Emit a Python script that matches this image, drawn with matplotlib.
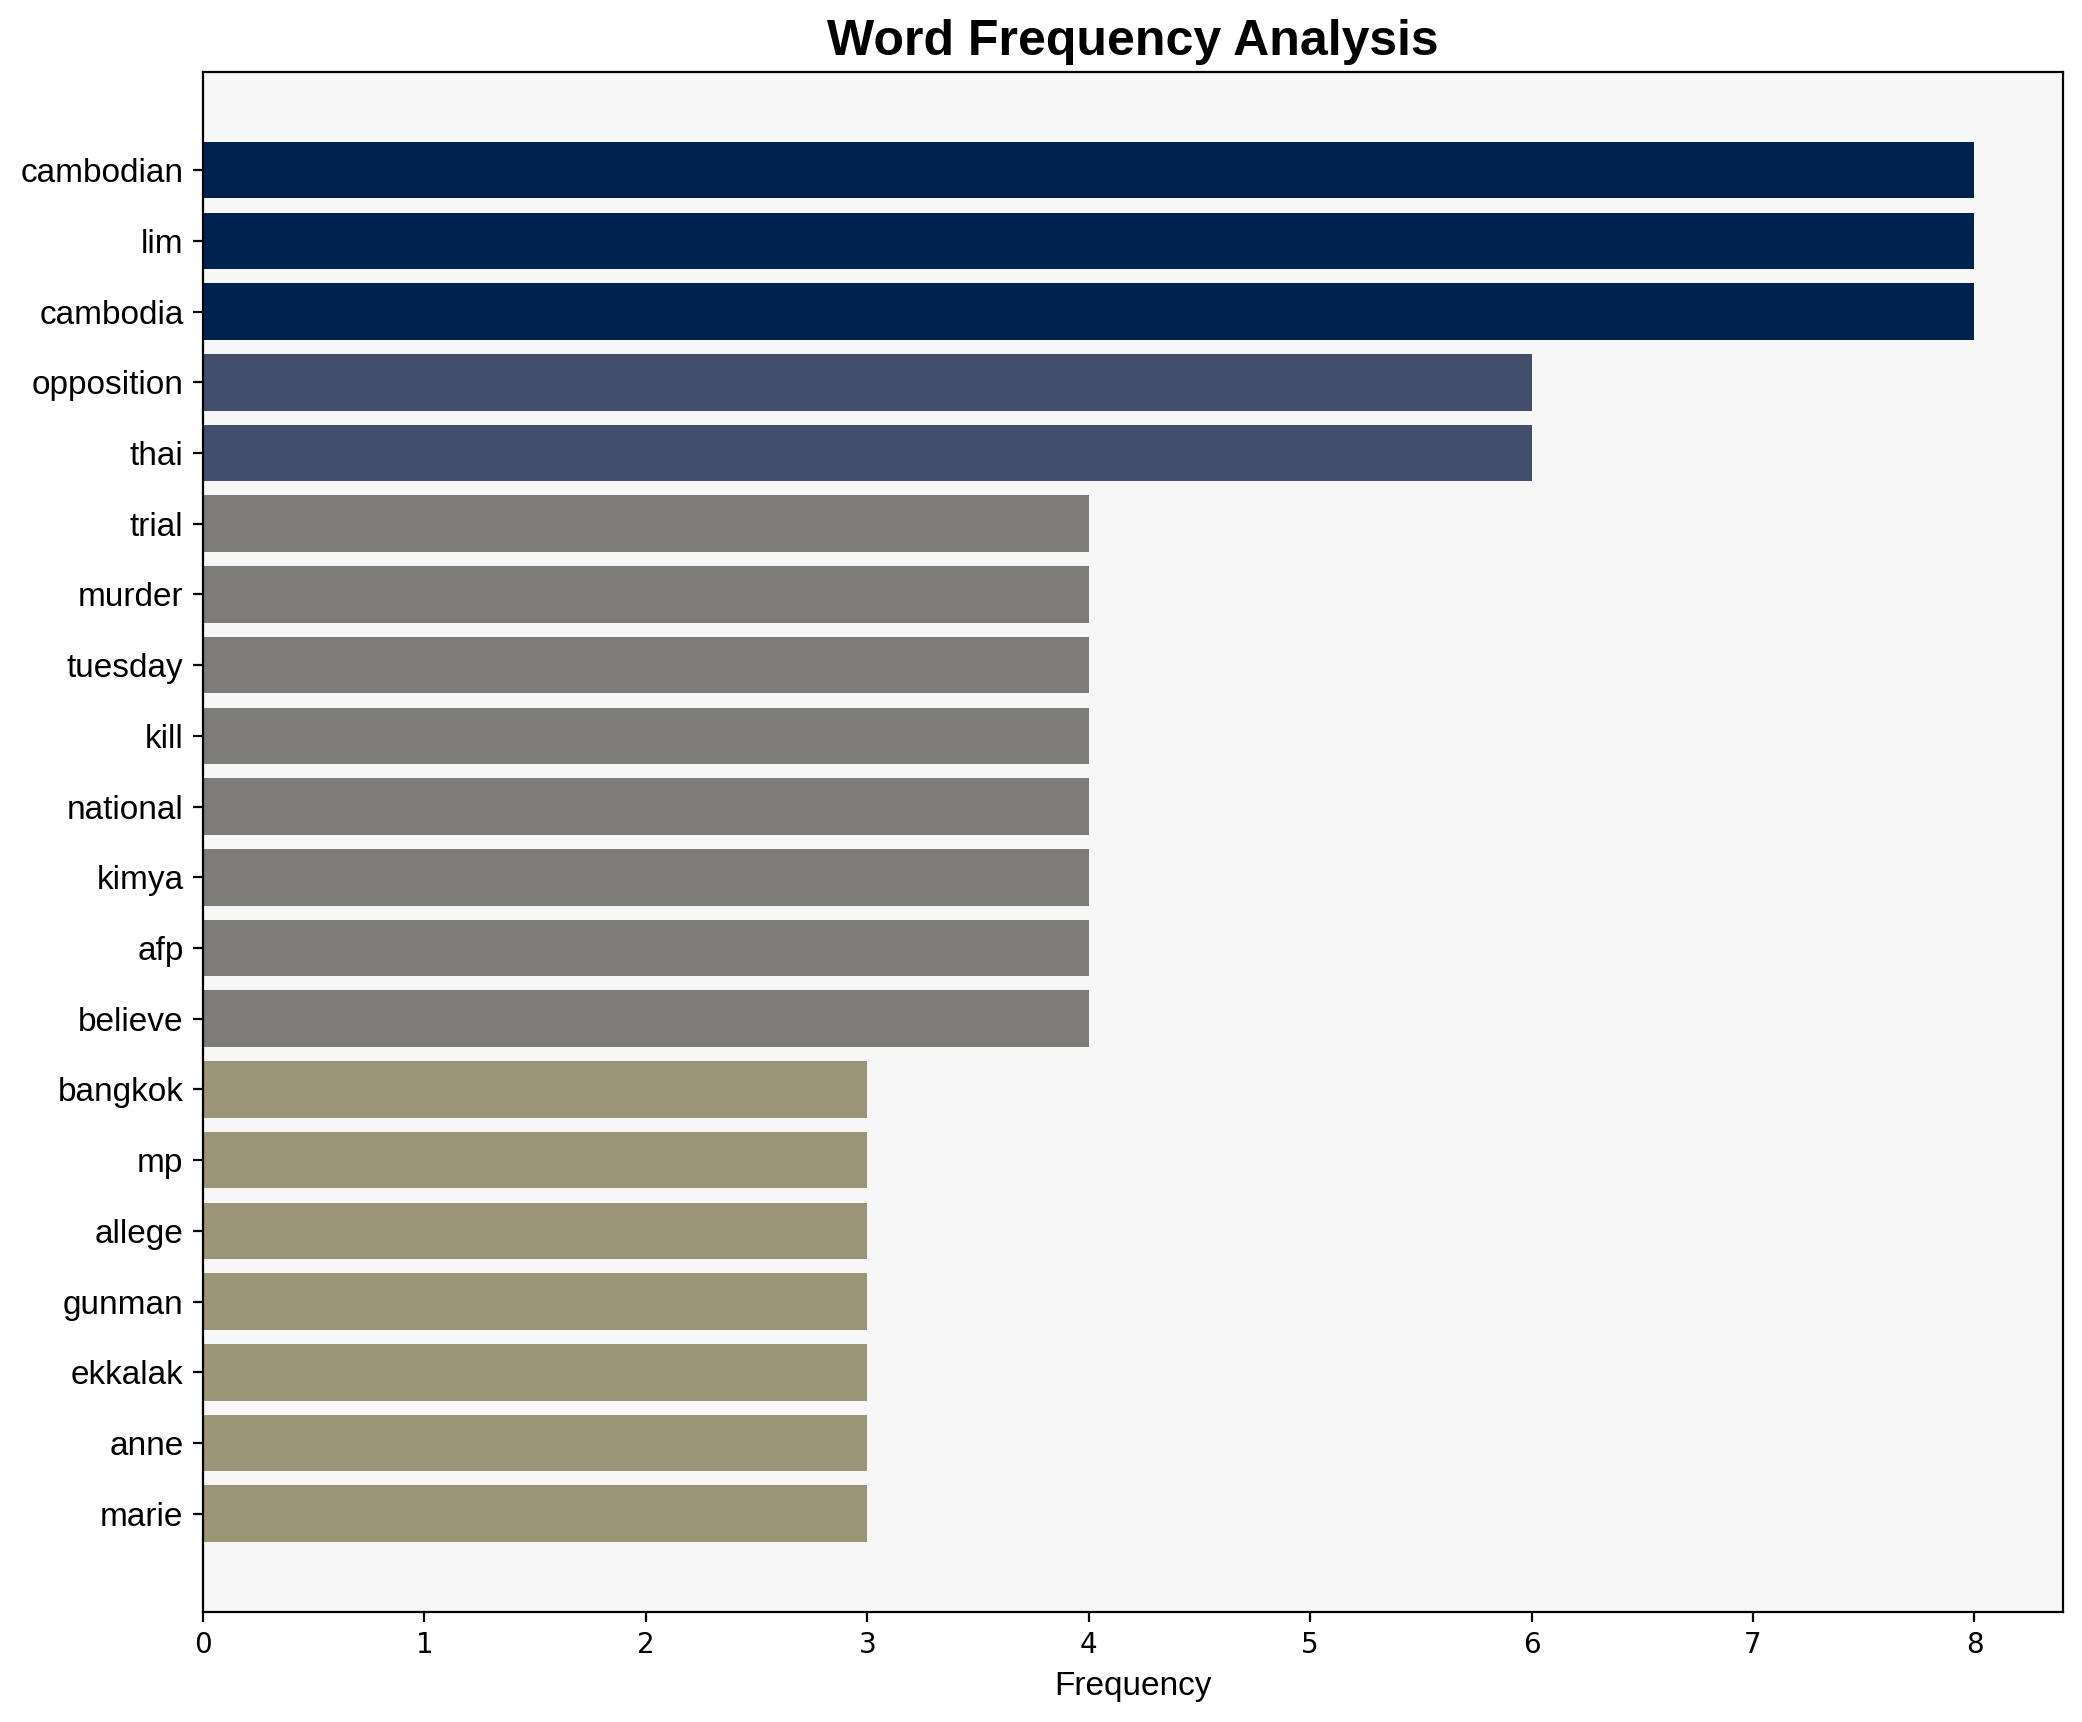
import matplotlib
matplotlib.use("Agg")
import matplotlib.pyplot as plt
import numpy as np

words = ["cambodian", "lim", "cambodia", "opposition", "thai", "trial", "murder",
         "tuesday", "kill", "national", "kimya", "afp", "believe", "bangkok", "mp",
         "allege", "gunman", "ekkalak", "anne", "marie"]
counts = [8, 8, 8, 6, 6, 4, 4, 4, 4, 4, 4, 4, 4, 3, 3, 3, 3, 3, 3, 3]


def make_graph():
    fig = plt.figure(figsize=(10.41, 8.61), dpi=200)
    ax = fig.add_axes([0.0975, 0.0639, 0.8934, 0.8944])
    ax.set_facecolor("#f7f7f7")

    vals = np.array(counts, dtype=float)
    colors = plt.cm.cividis(1 - vals / vals.max())
    ypos = np.arange(len(words))
    ax.barh(ypos, vals, height=0.8, color=colors)
    ax.set_yticks(ypos)
    ax.set_yticklabels(words, fontsize=12, family="Liberation Sans")
    ax.invert_yaxis()

    ax.set_xlabel("Frequency", fontsize=12, family="Liberation Sans")
    ax.set_title("Word Frequency Analysis", fontsize=18, fontweight="bold",
                 family="Liberation Sans")

    fig.savefig("out.png", dpi=200)


if __name__ == "__main__":
    make_graph()
